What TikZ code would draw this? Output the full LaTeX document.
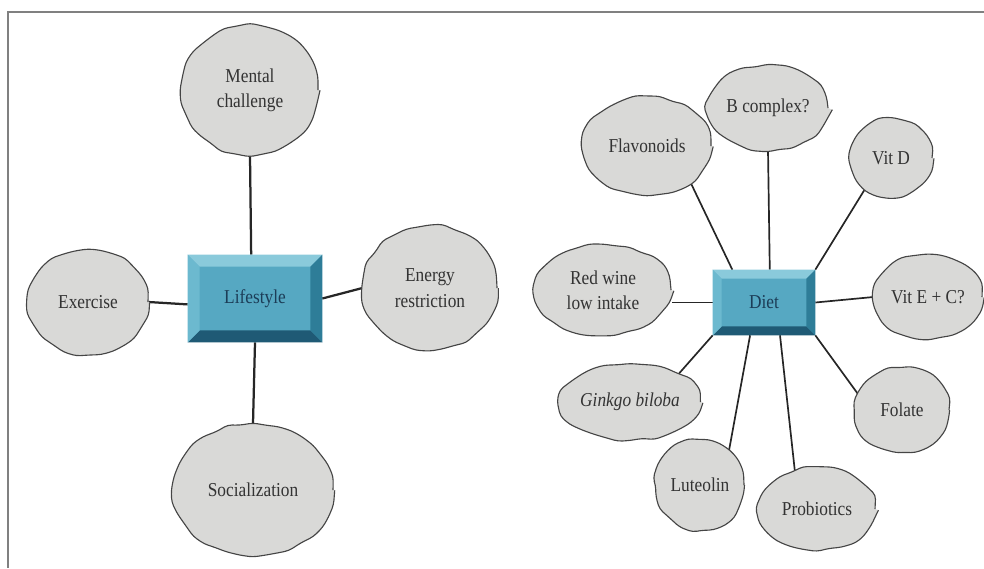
\documentclass[tikz,border=0pt]{standalone}
\usepackage{fontspec}
\setmainfont{Liberation Serif}[FakeStretch=0.88]
\usetikzlibrary{shapes.geometric,decorations.pathmorphing,backgrounds,calc}

\definecolor{blobgray}{HTML}{D9D9D7}
\definecolor{blobline}{HTML}{454545}
\definecolor{boxface}{HTML}{56A8C2}
\definecolor{boxtop}{HTML}{8ACADB}
\definecolor{boxleft}{HTML}{6CB9CF}
\definecolor{boxright}{HTML}{2E7D98}
\definecolor{boxbottom}{HTML}{1F5A75}
\definecolor{boxtext}{HTML}{1C3D57}

\tikzset{
  blob/.style={ellipse, inner sep=0pt, fill=blobgray, draw=blobline, line width=0.8pt,
    decorate, decoration={random steps, segment length=9pt, amplitude=1.1pt},
    rounded corners=3pt, align=center, text=black!80,
    font=\fontsize{14}{18}\selectfont},
  bevelbox/.style={rectangle, inner sep=0pt, fill=boxface, text=boxtext,
    font=\fontsize{14}{18}\selectfont},
  spoke/.style={line width=1.2pt, black!85},
}

% four bevel faces round a box node: #1 node, #2 bevel width
\newcommand{\bevel}[2]{%
  \fill[boxtop] (#1.north west) -- (#1.north east) -- ($(#1.north east)+(-#2,#2)$) -- ($(#1.north west)+(#2,#2)$) -- cycle;
  \fill[boxbottom] (#1.south west) -- (#1.south east) -- ($(#1.south east)+(-#2,-#2)$) -- ($(#1.south west)+(#2,-#2)$) -- cycle;
  \fill[boxleft] (#1.north west) -- (#1.south west) -- ($(#1.south west)+(#2,-#2)$) -- ($(#1.north west)+(#2,#2)$) -- cycle;
  \fill[boxright] (#1.north east) -- (#1.south east) -- ($(#1.south east)+(-#2,-#2)$) -- ($(#1.north east)+(-#2,#2)$) -- cycle;
}

\begin{document}
\begin{tikzpicture}[x=0.025cm, y=-0.025cm]
\useasboundingbox (0,0) rectangle (984,568);
\pgfmathsetseed{11}
\draw[gray, line width=1.5pt] (984,12) -- (8,12) -- (8,568);

% lifestyle
\node[bevelbox, minimum width=3.35cm, minimum height=2.175cm] (life) at (255,298.5) {Lifestyle};
\bevel{life}{12}
\node[blob, minimum width=3.4cm, minimum height=3.25cm] (ment) at (250,90) {Mental\\challenge};
\node[blob, minimum width=3.0cm, minimum height=2.6cm] (exer) at (88,302) {Exercise};
\node[blob, minimum width=3.35cm, minimum height=3.1cm] (ener) at (430,288) {Energy\\restriction};
\node[blob, minimum width=4.0cm, minimum height=3.3cm] (soci) at (253,490) {Socialization};

% diet
\node[bevelbox, minimum width=2.55cm, minimum height=1.625cm] (diet) at (764,302.5) {Diet};
\bevel{diet}{9}
\node[blob, minimum width=3.2cm, minimum height=2.45cm] (flav) at (647,146) {Flavonoids};
\node[blob, minimum width=3.0cm, minimum height=2.1cm] (bcom) at (768,108) {B complex?};
\node[blob, minimum width=2.05cm, minimum height=1.95cm] (vitd) at (891,158) {Vit D};
\node[blob, minimum width=2.7cm, minimum height=2.1cm] (vite) at (928,297) {Vit E + C?};
\node[blob, minimum width=2.35cm, minimum height=2.1cm] (fola) at (902,410) {Folate};
\node[blob, minimum width=2.9cm, minimum height=2.05cm] (prob) at (817,509) {Probiotics};
\node[blob, minimum width=2.2cm, minimum height=2.25cm] (lute) at (700,485) {Luteolin};
\node[blob, minimum width=3.35cm, minimum height=1.9cm] (gink) at (630,402) {\textit{Ginkgo biloba}};
\node[blob, minimum width=3.4cm, minimum height=2.25cm] (redw) at (603,290) {Red wine\\low intake};

\begin{pgfonlayer}{background}
  \draw[spoke, line width=1.6pt] (life.95) -- (ment.south);
  \draw[spoke, line width=1.6pt] (life.185) -- (exer.east);
  \draw[spoke, line width=1.6pt] (life.east) -- (ener.west);
  \draw[spoke, line width=1.6pt] (life.south) -- (soci.north);

  \draw[spoke] (diet.134) -- (flav.-40);
  \draw[spoke] (diet.80) -- (bcom.south);
  \draw[spoke] (diet.north east) -- (vitd.-130);
  \draw[spoke] (diet.east) -- (vite.west);
  \draw[spoke] (diet.south east) -- (fola.160);
  \draw[spoke] (diet.-64) -- (prob.120);
  \draw[spoke] (diet.247) -- (lute.50);
  \draw[spoke] (diet.south west) -- (gink.30);
  \draw[spoke] (diet.west) -- (diet.west -| redw.east);
\end{pgfonlayer}
\end{tikzpicture}
\end{document}
